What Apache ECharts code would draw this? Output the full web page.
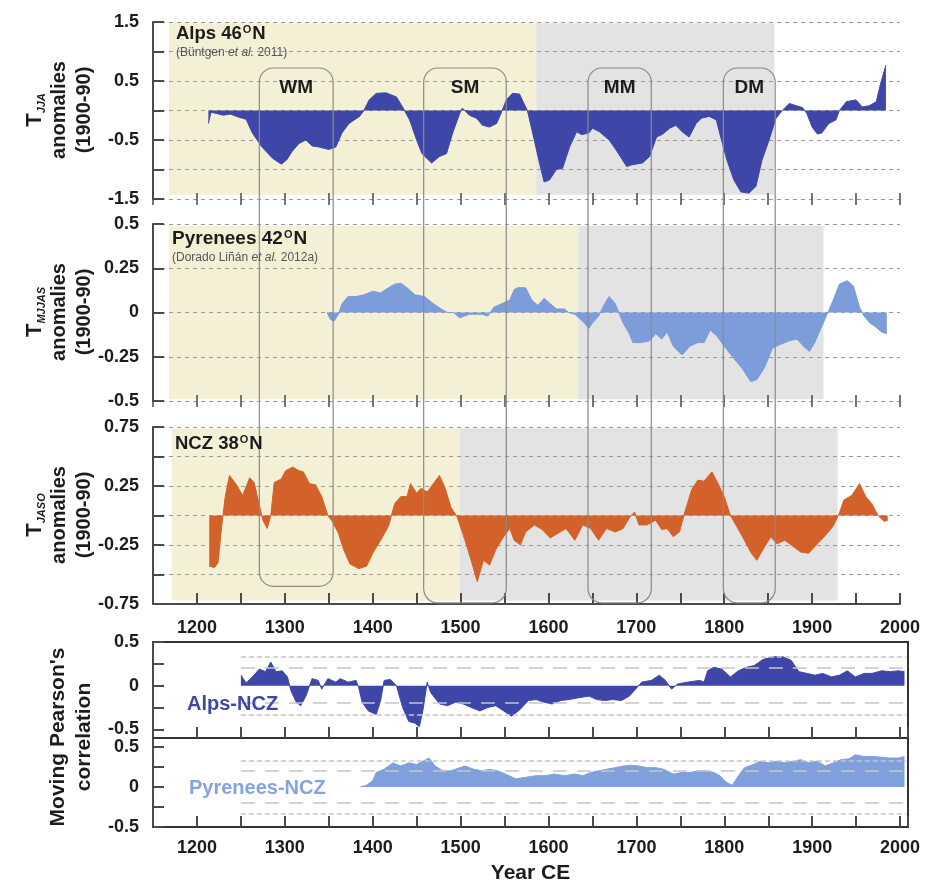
<!DOCTYPE html>
<html lang="en">
<head>
<meta charset="UTF-8">
<title>Alps, Pyrenees and NCZ temperature anomalies</title>
<style>
  html, body { margin: 0; padding: 0; background: #fff; }
  #main { width: 934px; height: 885px; }
</style>
<script src="https://cdn.jsdelivr.net/npm/echarts@6/dist/echarts.min.js"></script>
</head>
<body>
<div id="main"></div>
<script>
// values: [year CE, anomaly / correlation]
var alpsData = [[1213,-0.22],[1216,-0.03],[1222,-0.05],[1230,-0.08],[1238,-0.06],[1245,-0.1],[1256,-0.15],[1263,-0.38],[1274,-0.62],[1286,-0.81],
  [1296,-0.91],[1302,-0.84],[1308,-0.7],[1316,-0.56],[1324,-0.5],[1331,-0.6],[1339,-0.62],[1350,-0.66],[1358,-0.62],[1365,-0.38],
  [1373,-0.22],[1385,-0.1],[1390,0],[1396,0.18],[1404,0.29],[1415,0.3],[1427,0.23],[1434,0.06],[1442,-0.16],[1450,-0.5],
  [1456,-0.73],[1467,-0.89],[1476,-0.78],[1484,-0.73],[1491,-0.38],[1499,-0.05],[1502,0.04],[1510,-0.08],[1518,-0.13],[1525,-0.25],
  [1533,-0.28],[1541,-0.22],[1546,-0.05],[1552,0.18],[1559,0.29],[1567,0.28],[1572,0.12],[1576,0],[1582,-0.38],[1589,-0.84],
  [1595,-1.21],[1601,-1.18],[1609,-1.0],[1616,-0.98],[1624,-0.62],[1632,-0.36],[1638,-0.41],[1646,-0.38],[1650,-0.3],[1658,-0.36],
  [1669,-0.5],[1677,-0.67],[1689,-0.95],[1695,-0.92],[1707,-0.89],[1715,-0.78],[1723,-0.45],[1730,-0.4],[1738,-0.3],[1745,-0.25],
  [1752,-0.36],[1760,-0.45],[1768,-0.22],[1774,-0.13],[1783,-0.1],[1791,-0.16],[1796,-0.45],[1803,-0.84],[1811,-1.18],[1819,-1.38],
  [1828,-1.4],[1836,-1.29],[1843,-0.84],[1851,-0.5],[1859,-0.13],[1866,0],[1874,0.12],[1882,0.08],[1889,0.05],[1894,-0.05],
  [1900,-0.28],[1906,-0.4],[1911,-0.38],[1919,-0.22],[1927,-0.16],[1931,0],[1939,0.15],[1950,0.18],[1957,0.06],[1965,0.08],
  [1973,0.15],[1978,0.46],[1984,0.77]];

var pyreneesData = [[1348,0],[1352,-0.04],[1356,-0.05],[1361,-0.01],[1365,0.05],[1372,0.09],[1381,0.09],[1390,0.1],[1400,0.12],[1409,0.11],
  [1418,0.14],[1425,0.16],[1432,0.165],[1439,0.14],[1448,0.1],[1459,0.09],[1469,0.05],[1478,0.02],[1485,0],[1492,0],
  [1499,-0.03],[1510,-0.01],[1524,-0.01],[1531,-0.02],[1538,0.03],[1547,0.05],[1556,0.07],[1561,0.13],[1565,0.14],[1574,0.14],
  [1581,0.07],[1588,0.04],[1595,0.08],[1602,0.05],[1609,0.02],[1618,0.02],[1623,0],[1630,-0.01],[1639,-0.05],[1646,-0.09],
  [1650,-0.06],[1657,-0.02],[1664,0.05],[1669,0.09],[1676,0.05],[1680,0],[1685,-0.06],[1692,-0.12],[1696,-0.17],[1706,-0.17],
  [1715,-0.16],[1722,-0.12],[1729,-0.15],[1735,-0.11],[1742,-0.19],[1752,-0.24],[1761,-0.19],[1770,-0.17],[1777,-0.17],[1784,-0.1],
  [1791,-0.13],[1800,-0.19],[1811,-0.26],[1821,-0.32],[1830,-0.39],[1837,-0.38],[1846,-0.31],[1855,-0.2],[1864,-0.18],[1874,-0.16],
  [1883,-0.15],[1890,-0.19],[1897,-0.22],[1903,-0.17],[1910,-0.09],[1917,-0.01],[1924,0.07],[1931,0.16],[1940,0.18],[1947,0.15],
  [1954,0.03],[1959,-0.02],[1966,-0.06],[1972,-0.08],[1979,-0.11],[1985,-0.12]];

var nczData = [[1214,-0.43],[1220,-0.44],[1224,-0.4],[1228,-0.1],[1232,0.15],[1237,0.34],[1245,0.26],[1252,0.17],[1260,0.32],[1265,0.28],
  [1271,0.09],[1275,-0.04],[1280,-0.11],[1284,0],[1288,0.28],[1296,0.31],[1301,0.38],[1309,0.41],[1316,0.38],[1321,0.37],
  [1328,0.27],[1335,0.26],[1342,0.16],[1349,0],[1354,-0.05],[1361,-0.15],[1367,-0.29],[1374,-0.41],[1384,-0.45],[1393,-0.43],
  [1400,-0.32],[1409,-0.21],[1418,-0.09],[1425,0.1],[1432,0.16],[1439,0.16],[1443,0.27],[1450,0.19],[1455,0.23],[1462,0.2],
  [1469,0.27],[1476,0.34],[1482,0.24],[1489,0.07],[1496,-0.01],[1505,-0.21],[1512,-0.38],[1519,-0.56],[1526,-0.38],[1533,-0.42],
  [1540,-0.29],[1549,-0.18],[1556,-0.11],[1561,-0.21],[1568,-0.25],[1574,-0.14],[1584,-0.08],[1593,-0.12],[1602,-0.19],[1611,-0.15],
  [1620,-0.11],[1630,-0.21],[1639,-0.08],[1648,-0.11],[1657,-0.21],[1666,-0.11],[1676,-0.14],[1685,-0.11],[1692,-0.02],[1698,0.03],
  [1703,-0.08],[1712,-0.08],[1722,-0.04],[1729,-0.12],[1735,-0.11],[1742,-0.18],[1749,-0.14],[1756,0.05],[1763,0.22],[1770,0.3],
  [1777,0.29],[1786,0.37],[1793,0.27],[1800,0.16],[1807,0],[1814,-0.09],[1823,-0.21],[1830,-0.31],[1837,-0.38],[1844,-0.29],
  [1853,-0.18],[1860,-0.24],[1869,-0.21],[1878,-0.26],[1887,-0.31],[1896,-0.32],[1906,-0.24],[1915,-0.17],[1924,-0.09],[1931,0.02],
  [1936,0.13],[1945,0.17],[1954,0.27],[1961,0.16],[1968,0.1],[1975,0],[1982,-0.05],[1986,-0.04]];

var alpsNczCorr = [[1250,0.12],[1256,0.03],[1263,0.1],[1271,0.19],[1278,0.16],[1284,0.27],[1290,0.16],[1297,0.17],[1303,0.1],[1307,-0.06],
  [1313,-0.19],[1318,-0.23],[1324,-0.12],[1331,0.08],[1338,0.06],[1342,-0.04],[1349,0.08],[1358,0.04],[1363,0.08],[1372,0.04],
  [1381,0.06],[1384,-0.02],[1388,-0.19],[1395,-0.29],[1404,-0.33],[1409,-0.17],[1413,0.06],[1420,0.07],[1427,0],[1434,-0.25],
  [1441,-0.41],[1448,-0.43],[1453,-0.47],[1457,-0.29],[1462,0.04],[1466,-0.08],[1476,-0.21],[1485,-0.23],[1494,-0.19],[1503,-0.21],
  [1512,-0.25],[1522,-0.29],[1531,-0.25],[1540,-0.23],[1549,-0.29],[1558,-0.35],[1568,-0.27],[1577,-0.17],[1586,-0.16],[1595,-0.19],
  [1604,-0.21],[1614,-0.17],[1623,-0.16],[1634,-0.14],[1646,-0.12],[1655,-0.16],[1664,-0.17],[1673,-0.16],[1683,-0.17],[1692,-0.12],
  [1699,-0.04],[1706,0.04],[1717,0.06],[1726,0.12],[1733,0.06],[1740,-0.04],[1747,0.02],[1758,0.04],[1772,0.06],[1777,0.04],
  [1781,0.17],[1788,0.21],[1797,0.19],[1807,0.1],[1816,0.17],[1825,0.21],[1834,0.23],[1844,0.3],[1855,0.33],[1867,0.33],
  [1876,0.29],[1885,0.16],[1894,0.14],[1903,0.12],[1912,0.14],[1922,0.1],[1931,0.12],[1940,0.17],[1949,0.1],[1959,0.14],
  [1968,0.14],[1979,0.17],[1989,0.16],[1998,0.17],[2005,0.16]];

var pyreneesNczCorr = [[1386,0],[1393,0.02],[1400,0.08],[1404,0.18],[1413,0.22],[1423,0.3],[1432,0.26],[1441,0.3],[1450,0.28],[1457,0.32],
  [1464,0.36],[1471,0.26],[1480,0.2],[1489,0.2],[1499,0.24],[1505,0.26],[1515,0.22],[1524,0.2],[1533,0.22],[1542,0.2],
  [1551,0.16],[1563,0.1],[1574,0.12],[1586,0.14],[1597,0.14],[1607,0.16],[1618,0.14],[1630,0.16],[1639,0.14],[1648,0.18],
  [1657,0.2],[1666,0.22],[1676,0.24],[1685,0.26],[1694,0.27],[1703,0.26],[1712,0.24],[1722,0.24],[1731,0.22],[1742,0.16],
  [1752,0.18],[1761,0.18],[1770,0.2],[1779,0.2],[1788,0.18],[1795,0.14],[1802,0.06],[1809,0.02],[1816,0.14],[1823,0.24],
  [1833,0.28],[1841,0.32],[1851,0.3],[1860,0.32],[1869,0.3],[1878,0.32],[1887,0.34],[1896,0.3],[1906,0.32],[1915,0.26],
  [1924,0.3],[1933,0.34],[1942,0.35],[1949,0.4],[1958,0.38],[1970,0.38],[1979,0.37],[1988,0.36],[1998,0.36],[2005,0.38]];

// shaded periods: [start, end] (beige = before, grey = after)
var alpsPeriods = [[1168, 1586], [1586, 1857]];
var pyreneesPeriods = [[1168, 1634], [1634, 1913]];
var nczPeriods = [[1171, 1499], [1499, 1929]];

// solar minima boxes
var minimaNames = ['WM', 'SM', 'MM', 'DM'];
var minimaStart = [1271, 1458, 1645, 1799];
var minimaEnd = [1355, 1552, 1717, 1858];
var minimaBottom = [-0.6, -0.74, -0.74, -0.74];

// ticks / labels
var yearLabels = [1200, 1300, 1400, 1500, 1600, 1700, 1800, 1900, 2000];
var alpsLabels = [-1.5, -0.5, 0.5, 1.5];
var pyreneesLabels = [-0.5, -0.25, 0, 0.25, 0.5];
var nczLabels = [-0.75, -0.25, 0.25, 0.75];
var corrTicks = [-0.5, -0.25, 0, 0.25, 0.5];
var corrLabels = [-0.5, 0, 0.5];
var sigDotted = 0.33;
var sigDashed = 0.2;

var FONT = '"Liberation Sans", Arial, Helvetica, sans-serif';
var INK = '#1c1c1c';
var AXIS = '#4a4a4a';
var BEIGE = '#f4f0d6';
var GREY = '#e3e3e3';
var DARKBLUE = '#3e47a8';
var LIGHTBLUE = '#7c9cda';
var ORANGE = '#d3622a';

var chart = echarts.init(document.getElementById('main'));

function plain(v) { return String(v); }

function topYAxis(gi, min, max, step, labels) {
  return {
    type: 'value', gridIndex: gi, min: min, max: max, interval: step, z: 2,
    axisLine: { show: true, onZero: false, lineStyle: { color: AXIS, width: 2 } },
    axisTick: { show: true, inside: true, length: 11, lineStyle: { color: AXIS, width: 2 } },
    axisLabel: { customValues: labels, formatter: plain, margin: 14, color: INK, fontFamily: FONT, fontWeight: 'bold', fontSize: 18 },
    splitLine: { show: true, lineStyle: { color: '#9a9a9a', type: [4, 4], width: 1 } }
  };
}

function corrYAxis(gi, min, max) {
  return {
    type: 'value', gridIndex: gi, min: min, max: max, z: 2,
    axisLine: { show: true, onZero: false, lineStyle: { color: AXIS, width: 2 } },
    axisTick: { show: true, inside: true, length: 11, customValues: corrTicks, lineStyle: { color: AXIS, width: 2 } },
    axisLabel: { customValues: corrLabels, formatter: plain, margin: 14, color: INK, fontFamily: FONT, fontWeight: 'bold', fontSize: 18 },
    splitLine: { show: false }
  };
}

function xAxisFor(gi, max, opts) {
  var ax = {
    type: 'value', gridIndex: gi, min: 1150, max: max, interval: 50, z: 2,
    axisLine: { show: false, onZero: false, lineStyle: { color: AXIS, width: 2 } },
    axisTick: { show: true, length: 12, lineStyle: { color: AXIS, width: 1.5 } },
    axisLabel: { show: false },
    splitLine: { show: false }
  };
  return Object.assign(ax, opts || {});
}

function yearAxisLabel(margin) {
  return { show: true, customValues: yearLabels, formatter: plain, margin: margin, color: INK, fontFamily: FONT, fontWeight: 'bold', fontSize: 18 };
}

function shadeSeries(idx, periods, yTop, yBottom) {
  return {
    type: 'line', xAxisIndex: idx, yAxisIndex: idx, z: 1, data: [], silent: true,
    markArea: {
      silent: true,
      data: [
        [{ xAxis: periods[0][0], yAxis: yTop, itemStyle: { color: BEIGE } }, { xAxis: periods[0][1], yAxis: yBottom }],
        [{ xAxis: periods[1][0], yAxis: yTop, itemStyle: { color: GREY } }, { xAxis: periods[1][1], yAxis: yBottom }]
      ]
    }
  };
}

function areaSeries(idx, data, color) {
  return {
    type: 'line', xAxisIndex: idx, yAxisIndex: idx, z: 3, data: data,
    symbol: 'none', silent: true,
    lineStyle: { color: color, width: 1 },
    areaStyle: { color: color, opacity: 1, origin: 0 }
  };
}

function sigLines() {
  var st = function (v, dotted) {
    return [{ coord: [1250, v], lineStyle: { color: '#c6c6c6', width: 1.5, type: dotted ? [5, 3] : [14, 10] } }, { coord: [2007, v] }];
  };
  return {
    silent: true, symbol: 'none', label: { show: false },
    data: [st(sigDotted, true), st(sigDashed, false), st(-sigDashed, false), st(-sigDotted, true)]
  };
}

var boxAxis = {
  axisLine: { show: true, onZero: false, lineStyle: { color: '#333', width: 2 } },
  axisTick: { show: true, inside: true, length: 11, lineStyle: { color: AXIS, width: 2 } }
};

var option = {
  animation: false,
  backgroundColor: '#fff',
  grid: [
    { left: 153, top: 22, width: 747, height: 177 },
    { left: 153, top: 224, width: 747, height: 177 },
    { left: 153, top: 427, width: 747, height: 177 },
    { left: 153, top: 642, width: 755, height: 96, show: true, borderColor: '#333', borderWidth: 2 },
    { left: 153, top: 738, width: 755, height: 91, show: true, borderColor: '#333', borderWidth: 2 }
  ],
  xAxis: [
    xAxisFor(0, 2000, { offset: -6 }),
    xAxisFor(1, 2000, { offset: -6 }),
    xAxisFor(2, 2000, {
      axisLine: { show: true, onZero: false, lineStyle: { color: AXIS, width: 2 } },
      axisTick: { show: true, inside: true, length: 11, lineStyle: { color: AXIS, width: 2 } },
      axisLabel: yearAxisLabel(15)
    }),
    xAxisFor(3, 2009, boxAxis),
    xAxisFor(4, 2009, Object.assign({}, boxAxis, {
      axisLabel: yearAxisLabel(12),
      name: 'Year CE', nameLocation: 'middle', nameGap: 36,
      nameTextStyle: { color: INK, fontFamily: FONT, fontWeight: 'bold', fontSize: 21 }
    }))
  ],
  yAxis: [
    topYAxis(0, -1.5, 1.5, 0.5, alpsLabels),
    topYAxis(1, -0.5, 0.5, 0.25, pyreneesLabels),
    topYAxis(2, -0.75, 0.75, 0.25, nczLabels),
    corrYAxis(3, -0.6, 0.5),
    corrYAxis(4, -0.5, 0.61)
  ],
  series: [
    shadeSeries(0, alpsPeriods, 1.48, -1.43),
    shadeSeries(1, pyreneesPeriods, 0.49, -0.49),
    shadeSeries(2, nczPeriods, 0.74, -0.72),
    areaSeries(0, alpsData, DARKBLUE),
    areaSeries(1, pyreneesData, LIGHTBLUE),
    areaSeries(2, nczData, ORANGE),
    Object.assign(areaSeries(3, alpsNczCorr, DARKBLUE), { markLine: sigLines() }),
    Object.assign(areaSeries(4, pyreneesNczCorr, '#7f9fdd'), { markLine: sigLines() })
  ]
};

chart.setOption(option);

// text decorations
function label(x, y, text, size, color, rich) {
  return {
    type: 'text', x: x, y: y, z: 20, silent: true,
    style: {
      text: text, fill: color || INK, fontFamily: FONT, fontWeight: 'bold', fontSize: size,
      align: 'left', verticalAlign: 'middle', rich: rich || {}
    }
  };
}
function axisTitle(y, text, rich) {
  return {
    type: 'text', x: 97, y: y, rotation: Math.PI / 2, z: 20, silent: true,
    style: {
      text: text, fill: INK, fontFamily: FONT, fontWeight: 'bold', fontSize: 20, lineHeight: 25,
      align: 'center', verticalAlign: 'bottom', rich: rich || {}
    }
  };
}
var supRich = { sup: { fontSize: 11, fontWeight: 'bold', fontFamily: FONT, fill: INK, verticalAlign: 'top', padding: [0, 1, 6, 1] } };
var citeRich = {
  c: { fontSize: 12, fontFamily: FONT, fill: '#555' },
  i: { fontSize: 12, fontFamily: FONT, fill: '#555', fontStyle: 'italic' }
};
var subRich = function () {
  return {
    t: { fontSize: 22, fontWeight: 'bold', fontFamily: FONT, fill: INK, lineHeight: 25 },
    s: { fontSize: 11, fontWeight: 'bold', fontStyle: 'italic', fontFamily: FONT, fill: INK, verticalAlign: 'bottom', lineHeight: 25 }
  };
};

var elements = [
  label(176, 34, 'Alps 46{sup|O}N', 18.5, INK, supRich),
  label(176, 53, '{c|(Büntgen }{i|et al.}{c| 2011)}', 12, '#555', citeRich),
  label(172, 239, 'Pyrenees 42{sup|O}N', 19, INK, supRich),
  label(172, 258, '{c|(Dorado Liñán }{i|et al.}{c| 2012a)}', 12, '#555', citeRich),
  label(175, 444, 'NCZ 38{sup|O}N', 18.5, INK, supRich),
  label(187, 704, 'Alps-NCZ', 20, DARKBLUE),
  label(189, 788, 'Pyrenees-NCZ', 20, '#85a3e0'),
  axisTitle(110, '{t|T}{s|JJA}\nanomalies\n(1900-90)', subRich()),
  axisTitle(312, '{t|T}{s|MJJAS}\nanomalies\n(1900-90)', subRich()),
  axisTitle(515, '{t|T}{s|JASO}\nanomalies\n(1900-90)', subRich()),
  {
    type: 'text', x: 97, y: 737, rotation: Math.PI / 2, z: 20, silent: true,
    style: {
      text: "Moving Pearson's\ncorrelation", fill: INK, fontFamily: FONT, fontWeight: 'bold', fontSize: 21, lineHeight: 26,
      align: 'center', verticalAlign: 'bottom'
    }
  }
];

// rounded boxes for the solar minima, placed through the axes
minimaNames.forEach(function (name, i) {
  var tl = chart.convertToPixel({ gridIndex: 0 }, [minimaStart[i], 0.72]);
  var br = chart.convertToPixel({ gridIndex: 2 }, [minimaEnd[i], minimaBottom[i]]);
  elements.push({
    type: 'rect', z: 15, silent: true,
    shape: { x: tl[0], y: tl[1], width: br[0] - tl[0], height: br[1] - tl[1], r: 14 },
    style: { fill: 'none', stroke: '#8a8a8a', lineWidth: 1.2 }
  });
  elements.push({
    type: 'text', x: (tl[0] + br[0]) / 2, y: tl[1] + 20, z: 20, silent: true,
    style: { text: name, fill: INK, fontFamily: FONT, fontWeight: 'bold', fontSize: 19, align: 'center', verticalAlign: 'middle' }
  });
});

chart.setOption({ graphic: { elements: elements } });
</script>
</body>
</html>
